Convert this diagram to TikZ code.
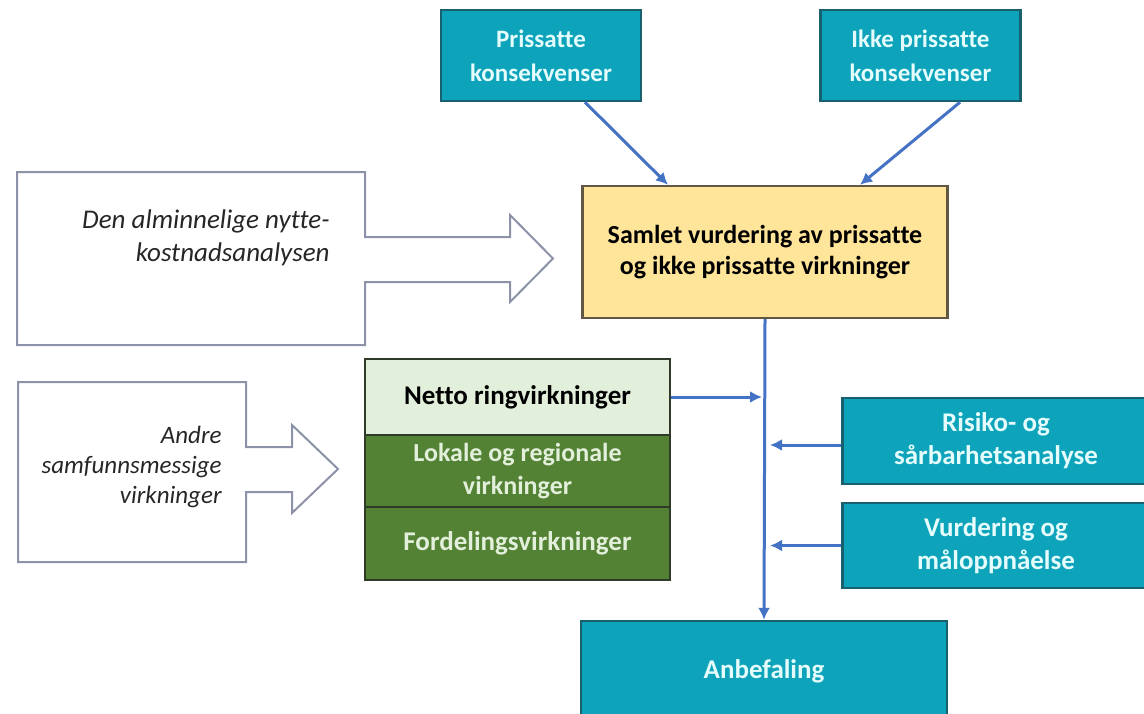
\documentclass[tikz,border=0pt]{standalone}
\usepackage{fontspec}
\setmainfont{Carlito}[Ligatures=NoCommon]
\usetikzlibrary{arrows.meta}
\definecolor{tealbox}{RGB}{12,163,187}
\definecolor{tealline}{RGB}{24,96,110}
\definecolor{tealtext}{RGB}{228,252,252}
\definecolor{yellowbox}{RGB}{255,229,153}
\definecolor{yellowline}{RGB}{96,88,66}
\definecolor{lightgreen}{RGB}{226,239,218}
\definecolor{darkgreen}{RGB}{84,130,53}
\definecolor{greenline}{RGB}{48,58,40}
\definecolor{flowblue}{RGB}{68,114,196}
\definecolor{calloutline}{RGB}{140,146,168}
\tikzset{
  tealnode/.style={draw=tealline, line width=1.2pt, fill=tealbox, text=tealtext,
    font=\bfseries\fontsize{13.5}{16.5}\selectfont, align=center, inner sep=0pt},
  greennode/.style={draw=greenline, line width=1.2pt, fill=darkgreen, text=lightgreen,
    font=\bfseries\fontsize{13.5}{16.5}\selectfont, align=center, inner sep=0pt,
    minimum width=152.5pt},
  callout/.style={draw=calloutline, line width=1pt, line join=miter},
  calloutlabel/.style={font=\itshape, text=black!85, align=right, anchor=east, inner sep=0pt},
  flow/.style={draw=flowblue, line width=1.5pt, -{Latex[length=6pt,width=6pt]}}
}
\begin{document}
\begin{tikzpicture}[x=0.5pt, y=-0.5pt]
\useasboundingbox (0,0) rectangle (1144,713);
\begin{scope}
\clip (0,0) rectangle (1144,713);
\node [tealnode, font=\bfseries\fontsize{12.5}{17}\selectfont, minimum width=100pt,
  minimum height=45.5pt] (pris) at (541,55.5) {Prissatte\\konsekvenser};
\node [tealnode, font=\bfseries\fontsize{12.5}{17}\selectfont, minimum width=100pt,
  minimum height=45.5pt] (ikke) at (920.5,55.5) {Ikke prissatte\\konsekvenser};
\node [draw=yellowline, line width=1.2pt, fill=yellowbox, minimum width=182.5pt,
  minimum height=66pt, inner sep=0pt, align=center,
  font=\bfseries\fontsize{13}{15.5}\selectfont] (samlet) at (765,252)
  {Samlet vurdering av prissatte\\og ikke prissatte virkninger};
\node [greennode, fill=lightgreen, text=black, minimum height=38pt] (netto) at (517.5,397)
  {Netto ringvirkninger};
\node [greennode, font=\bfseries\fontsize{13}{16.5}\selectfont, minimum height=36pt]
  (lokale) at (517.5,471) {Lokale og regionale\\virkninger};
\node [greennode, minimum height=36.5pt] (fordeling) at (517.5,543.5)
  {Fordelingsvirkninger};
\node [tealnode, minimum width=153.5pt, minimum height=43pt] (risiko) at (996,441)
  {Risiko- og\\sårbarhetsanalyse};
\node [tealnode, minimum width=153.5pt, minimum height=42.5pt] (maal) at (996,545.5)
  {Vurdering og\\måloppnåelse};
\node [tealnode, minimum width=183pt, minimum height=50pt] (anbef) at (764,671)
  {Anbefaling};
\end{scope}
\draw [callout] (17,172) -- (365,172) -- (365,237) -- (510,237) -- (510,215)
  -- (553,258.5) -- (510,302) -- (510,282) -- (365,282) -- (365,345) -- (17,345) -- cycle;
\node [calloutlabel, font=\itshape\fontsize{13.5}{16.5}\selectfont] (nka) at (330,238)
  {Den alminnelige nytte-\\kostnadsanalysen};
\draw [callout] (18,382) -- (246,382) -- (246,447) -- (292,447) -- (292,425)
  -- (338,469) -- (292,513) -- (292,492) -- (246,492) -- (246,562) -- (18,562) -- cycle;
\node [calloutlabel, font=\itshape\fontsize{12.5}{15}\selectfont] (andre) at (222,467)
  {Andre\\samfunnsmessige\\virkninger};
\draw [flow] ([xshift=22pt]pris.south) -- ([xshift=-48.5pt]samlet.north);
\draw [flow] ([xshift=19.75pt]ikke.south) -- ([xshift=47.5pt]samlet.north);
\draw [flow] (samlet.south) -- (anbef.north);
\draw [flow] (netto.east) -- ([xshift=-1.5pt]netto.east -| samlet.south);
\draw [flow] ([yshift=-2pt]risiko.west) -- ([xshift=2.5pt,yshift=-2pt]risiko.west -| samlet.south);
\draw [flow] (maal.west) -- ([xshift=2.5pt]maal.west -| samlet.south);
\end{tikzpicture}
\end{document}
